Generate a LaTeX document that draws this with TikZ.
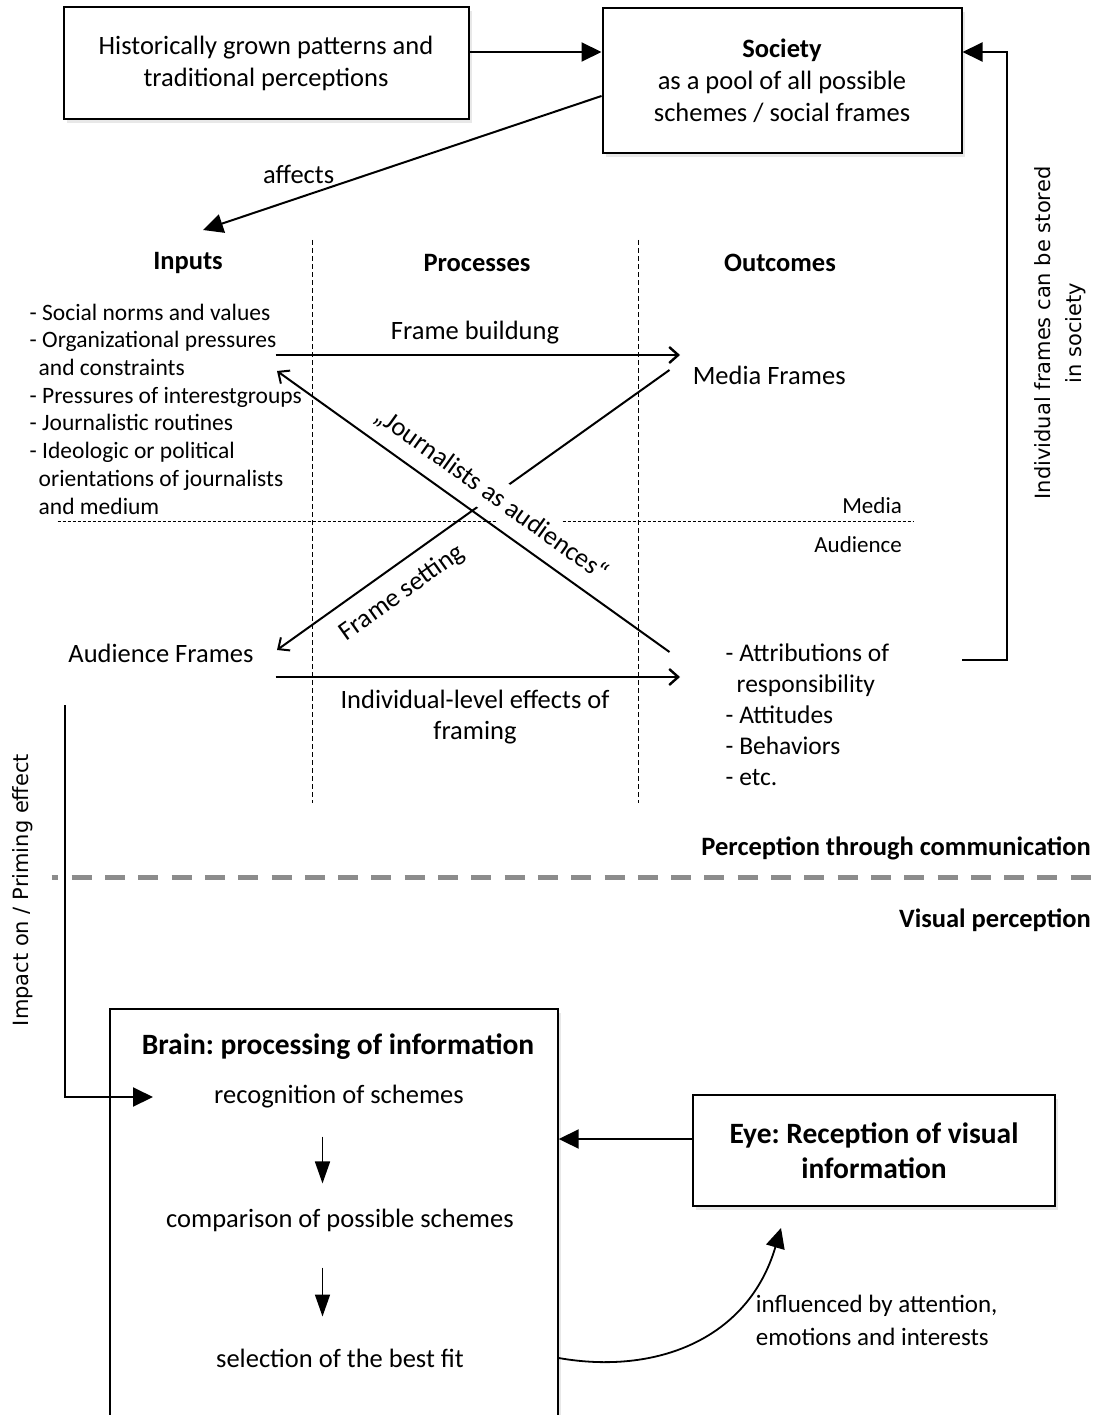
\documentclass[tikz,border=0pt]{standalone}
\usepackage{fontspec}
\setmainfont{Carlito}
\newfontfamily\sidefont{DejaVu Sans}
\frenchspacing
\usetikzlibrary{arrows.meta, positioning, shadows}

\begin{document}
\begin{tikzpicture}[
    x=1pt, y=-1pt,
    every node/.style={inner sep=0pt, font=\fontsize{26.5}{32}\selectfont},
    box/.style={draw=black, line width=2pt, fill=white, align=center,
        drop shadow={opacity=0.18, shadow xshift=3pt, shadow yshift=-4pt}},
    head/.style={font=\fontsize{26.5}{32}\selectfont\bfseries},
    title/.style={font=\fontsize{29.5}{35}\selectfont\bfseries},
    list/.style={anchor=west, align=left, font=\fontsize{23.5}{27.7}\selectfont},
    outlist/.style={anchor=west, align=left, font=\fontsize{25.5}{31}\selectfont},
    side/.style={rotate=90, align=center, font=\sidefont\fontsize{21}{31}\selectfont},
    arrow/.style={-{Triangle[length=20pt, width=19pt]}, line width=2pt},
    stepdown/.style={-{Triangle[length=22pt, width=15pt]}, line width=1.6pt},
    flow/.style={-{Straight Barb[length=9pt, width=16pt]}, line width=2.4pt},
    backflow/.style={{Straight Barb[length=9pt, width=16pt]}-, line width=2pt},
    colline/.style={dash pattern=on 5pt off 3pt, line width=0.9pt},
    divider/.style={dash pattern=on 3pt off 2pt, line width=1.2pt},
    splitline/.style={draw=black!45, line width=5pt, dash pattern=on 20pt off 13.3pt, dash phase=13.3pt}
]
    \path[use as bounding box, fill=white] (0,0) rectangle (1094,1415);
    \clip (0,0) rectangle (1094,1415);

    % --- Society ---
    \node[box, minimum width=405pt, minimum height=112pt] (hist) at (266,63)
        {Historically grown patterns and\\traditional perceptions};
    \node[box, minimum width=359pt, minimum height=145pt] (soc) at (782,80.5)
        {\textbf{Society}\\as a pool of all possible\\schemes / social frames};
    \coordinate (affin) at (203,230);
    \draw[arrow] ([yshift=11pt]hist.east) -- ([yshift=11pt]hist.east -| soc.west);
    \draw[arrow] ([yshift=-15.5pt]soc.west) -- (affin) node[pos=0.76, above=13pt] {affects};

    % --- Feedback to society ---
    \coordinate (fbStart) at (962,660);
    \draw[arrow] (fbStart) -- (1007,660) |- ([yshift=28.5pt]soc.east);
    \node[side] (stored) at (1060,333) {Individual frames can be stored\\in society};

    % --- Columns ---
    \draw[colline] (312,240) -- (312,803);
    \draw[colline] (638,240) -- (638,803);
    \draw[divider] (57.5,521.7) -- (913,521.7);
    \node[head] (inputs) at (188,263) {Inputs};
    \node[head] (processes) at (477,263) {Processes};
    \node[head] (outcomes) at (780,263) {Outcomes};
    \node[anchor=east, font=\fontsize{23}{28}\selectfont] (media) at (902,506) {Media};
    \node[anchor=east, font=\fontsize{23}{28}\selectfont] (audience) at (902,545) {Audience};

    \node[list] (causes) at (29.5,409) {- Social norms and values\\- Organizational pressures\\\hspace*{9pt}and constraints\\- Pressures of interestgroups\\- Journalistic routines\\- Ideologic or political\\\hspace*{9pt}orientations of journalists\\\hspace*{9pt}and medium};
    \node[anchor=west] (mediaframes) at (692.6,375) {Media Frames};
    \node (audframes) at (161,653) {Audience Frames};
    \node[outlist] (effects) at (725.5,715) {- Attributions of\\\hspace*{11pt}responsibility\\- Attitudes\\- Behaviors\\- etc.};
    \node (building) at (475,333) {Frame buildung};
    \node[align=center, font=\fontsize{26.5}{31}\selectfont] (indiv) at (475,717.5) {Individual-level effects of\\framing};

    % --- Framing arrows ---
    \coordinate (fbA) at (275.5,355);
    \coordinate (fbB) at (680,355);
    \coordinate (ilA) at (275.5,677);
    \coordinate (ilB) at (680,677);
    \coordinate (mfPort) at (669.5,370);
    \coordinate (afPort) at (277,650);
    \coordinate (inPort) at (277,371);
    \coordinate (efPort) at (669.5,652);
    \draw[backflow] (afPort) -- (mfPort) node[pos=0.28, sloped, below=14pt] {Frame setting};
    \draw[flow] (fbA) -- (fbB);
    \draw[flow] (ilA) -- (ilB);
    \draw[backflow] (inPort) -- (efPort)
        node[pos=0.51, sloped, above=5pt, fill=white, inner sep=7pt] {„Journalists as audiences“};

    % --- Perception levels ---
    \draw[splitline] (51.7,877.7) -- (1094,877.7);
    \node[head, anchor=east] (commlvl) at (1091,848) {Perception through communication};
    \node[head, anchor=east] (vislvl) at (1091,920) {Visual perception};

    % --- Brain and eye ---
    \node[box, minimum width=448pt, minimum height=430pt, anchor=north west] (brain) at (108.7,1008) {};
    \node[title] (braintitle) at (338,1047) {Brain: processing of information};
    \node (rec) at (339,1097) {recognition of schemes};
    \node (cmp) at (340,1220) {comparison of possible schemes};
    \node (sel) at (340,1358) {selection of the best fit};
    \draw[stepdown, shorten <=28pt, shorten >=25pt] ([xshift=-16.5pt]rec.south) -- ([xshift=-17.5pt]cmp.north);
    \draw[stepdown, shorten <=36pt, shorten >=32pt] ([xshift=-17.5pt]cmp.south) -- ([xshift=-17.5pt]sel.north);

    \node[box, minimum width=362pt, minimum height=111pt, title, align=center] (eye) at (874,1150.5)
        {Eye: Reception of visual\\information};
    \draw[arrow] ([yshift=11.5pt]eye.west) -- ([yshift=11.5pt]eye.west -| brain.east);

    \coordinate (eyeIn) at (781,1228);
    \draw[arrow, line width=1.8pt] (sel -| brain.east) .. controls (655,1375) and (748,1340) .. (eyeIn);
    \node[anchor=west, align=left, font=\fontsize{25}{33}\selectfont] (infl) at (755.7,1320.5)
        {influenced by attention,\\emotions and interests};

    % --- Priming ---
    \coordinate (impStart) at (64.5,705);
    \coordinate (impEnd) at (153,1097);
    \draw[arrow] (impStart) |- (impEnd);
    \node[side] (priming) at (23,890) {Impact on / Priming effect};
\end{tikzpicture}
\end{document}
